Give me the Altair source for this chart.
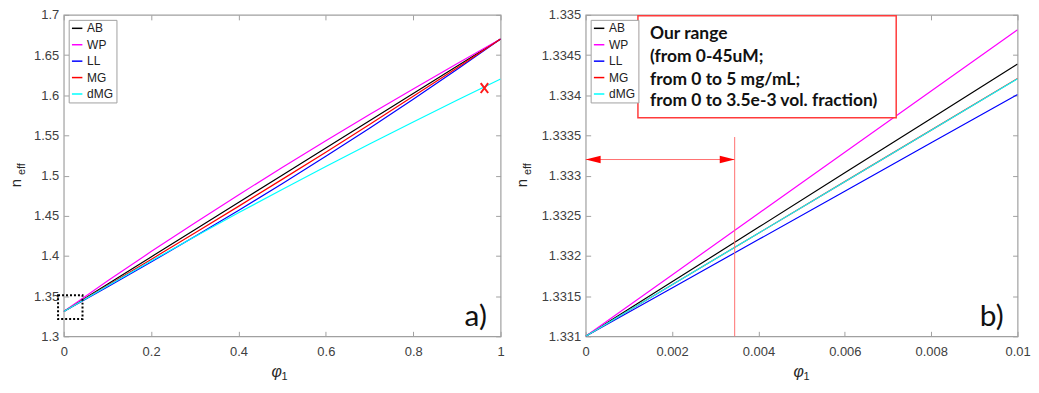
import altair as alt
import pandas as pd

# ---------------- data ----------------
SERIES = ["AB", "WP", "LL", "MG", "dMG"]
COLORS = ["#000000", "#ff00ff", "#0000ff", "#ff0000", "#00ffff"]

# panel a) full range
PHI_A = [0.0, 0.1, 0.2, 0.3, 0.4, 0.5, 0.6, 0.7, 0.8, 0.9, 1.0]
AB_A = [1.331, 1.3649, 1.3988, 1.4327, 1.4666, 1.5005, 1.5344, 1.5683, 1.6022, 1.6361, 1.670]
WP_A = [1.331, 1.3687, 1.4054, 1.4411, 1.4760, 1.5100, 1.5434, 1.5760, 1.6079, 1.6393, 1.670]
LL_A = [1.331, 1.3614, 1.3924, 1.4242, 1.4566, 1.4899, 1.5240, 1.5590, 1.5949, 1.6319, 1.670]
MG_A = [1.331, 1.3632, 1.3957, 1.4285, 1.4617, 1.4953, 1.5292, 1.5637, 1.5986, 1.6340, 1.670]
DMG_A = [1.331, 1.3627, 1.3937, 1.4240, 1.4537, 1.4827, 1.5113, 1.5393, 1.5667, 1.5938, 1.6203]

# panel b) zoom on small fractions
PHI_B = [0.0, 0.002, 0.004, 0.006, 0.008, 0.010]
AB_B = [1.331, 1.331678, 1.332356, 1.333034, 1.333712, 1.334390]
WP_B = [1.331, 1.331764, 1.332528, 1.333291, 1.334054, 1.334816]
LL_B = [1.331, 1.331602, 1.332204, 1.332806, 1.333408, 1.334010]
MG_B = [1.331, 1.331642, 1.332283, 1.332925, 1.333566, 1.334208]
DMG_B = [1.331, 1.331641, 1.332283, 1.332923, 1.333564, 1.334204]

XDOM_A = [0.0, 1.0]
YDOM_A = [1.3, 1.7]
XT_A = [0.0, 0.2, 0.4, 0.6, 0.8, 1.0]
YT_A = [1.3, 1.35, 1.4, 1.45, 1.5, 1.55, 1.6, 1.65, 1.7]

XDOM_B = [0.0, 0.01]
YDOM_B = [1.331, 1.335]
XT_B = [0.0, 0.002, 0.004, 0.006, 0.008, 0.01]
YT_B = [1.331, 1.3315, 1.332, 1.3325, 1.333, 1.3335, 1.334, 1.3345, 1.335]

# annotations panel a
CROSS_X = [0.963]
CROSS_Y = [1.609]
ZOOM_BOX_X = [-0.013, 0.043]
ZOOM_BOX_Y = [1.3214, 1.3511]

# annotations panel b
RANGE_END = 0.00345
RANGE_TOP = 1.33348
ARROW_Y = 1.3332
NOTE_BOX_X = [0.00121, 0.00719]
NOTE_BOX_Y = [1.33372, 1.33499]
NOTE_X = 0.00149
NOTE_LINES = ["Our range", "(from 0-45uM;", "from 0 to 5 mg/mL;", "from 0 to 3.5e-3 vol. fraction)"]
NOTE_Y = [1.334765, 1.33448, 1.334195, 1.333923]

# ---------------- style ----------------
LABEL_FONT = "Liberation Sans"
NOTE_FONT = "Lato"
LABEL_C = "#404040"
GRAY = "#a0a0a0"
W_A, W_B, H = 439, 434, 323


def long_df(phi, cols):
    rows = []
    for name, vals in zip(SERIES, cols):
        for p, v in zip(phi, vals):
            rows.append({"phi": p, "n": v, "model": name})
    return pd.DataFrame(rows)


def one(text):
    return pd.DataFrame({"t": [text]})


def panel(df, xdom, ydom, xticks, yticks, w, extras, ytx, letter_x, letter):
    xs = alt.Scale(domain=xdom, nice=False, zero=False)
    ys = alt.Scale(domain=ydom, nice=False, zero=False)
    lab = dict(labelFont=LABEL_FONT, labelFontSize=13, labelColor=LABEL_C,
               labelOverlap=False, labelFlush=False, grid=False, domain=False, title=None)
    main_x = alt.Axis(orient="bottom", values=xticks, format="~g", tickSize=0,
                      labelPadding=9, **lab)
    main_y = alt.Axis(orient="left", values=yticks, format="~g", tickSize=0,
                      labelPadding=5, **lab)
    tk = dict(labels=False, domain=False, grid=False, ticks=True, tickSize=5,
              tickColor=GRAY, tickWidth=1, title=None, minExtent=0, maxExtent=0)

    lines = alt.Chart(df).mark_line(strokeWidth=1.2, clip=True).encode(
        x=alt.X("phi:Q", scale=xs, axis=main_x),
        y=alt.Y("n:Q", scale=ys, axis=main_y),
        color=alt.Color(
            "model:N",
            scale=alt.Scale(domain=SERIES, range=COLORS),
            legend=alt.Legend(orient="top-left", offset=5, title=None, symbolType="stroke",
                              symbolSize=110, symbolStrokeWidth=1.5, labelFont=LABEL_FONT,
                              labelFontSize=12, labelColor="#222222", strokeColor=GRAY,
                              fillColor="white", padding=2.5, rowPadding=4.5, labelOffset=4,
                              cornerRadius=0),
        ),
    )
    corners = pd.DataFrame({"phi": xdom, "n": ydom})
    ticks1 = alt.Chart(corners).mark_point(opacity=0).encode(
        x=alt.X("phi:Q", scale=xs, axis=alt.Axis(orient="top", offset=-H, values=xticks, **tk)),
        y=alt.Y("n:Q", scale=ys, axis=alt.Axis(orient="right", offset=-w, values=yticks, **tk)),
    )
    ticks2 = alt.Chart(corners).mark_point(opacity=0).encode(
        x=alt.X("phi:Q", scale=xs, axis=alt.Axis(orient="bottom", offset=-H, values=xticks, **tk)),
        y=alt.Y("n:Q", scale=ys, axis=alt.Axis(orient="left", offset=-w, values=yticks, **tk)),
    )

    def txt(text, x, y, size, angle=0, style="normal", font=LABEL_FONT, color="#262626", weight="normal"):
        return alt.Chart(one(text)).mark_text(
            angle=angle, fontSize=size, font=font, fontStyle=style, color=color,
            fontWeight=weight, align="center", baseline="middle"
        ).encode(x=alt.value(x), y=alt.value(y), text="t:N")

    titles = [
        txt("n", ytx, 169, 15, angle=270),
        txt("eff", ytx + 6, 155, 11, angle=270),
        txt("φ", 214, H + 36, 16, style="italic"),
        txt("1", 222, H + 40.5, 11),
        txt(letter, letter_x, 304, 30, font=NOTE_FONT, color="#111111"),
    ]
    layers = [lines] + [e(xs, ys) for e in extras] + [ticks1, ticks2] + titles
    return alt.layer(*layers).resolve_axis(x="independent", y="independent").properties(width=w, height=H)


# extras for panel a
def zoom_box(xs, ys):
    d = pd.DataFrame({"x1": [ZOOM_BOX_X[0]], "x2": [ZOOM_BOX_X[1]], "y1": [ZOOM_BOX_Y[0]], "y2": [ZOOM_BOX_Y[1]]})
    return alt.Chart(d).mark_rect(fill=None, fillOpacity=0, stroke="black", strokeWidth=2,
                                  strokeDash=[2, 2], clip=False).encode(
        x=alt.X("x1:Q", scale=xs, axis=None), x2="x2", y=alt.Y("y1:Q", scale=ys, axis=None), y2="y2")


def cross(xs, ys):
    d = pd.DataFrame({"x": CROSS_X, "y": CROSS_Y})
    return alt.Chart(d).mark_point(shape="M-0.75,-1L0.75,1M0.75,-1L-0.75,1", size=100,
                                   stroke="#ff1a1a", strokeWidth=2, filled=False, opacity=1).encode(
        x=alt.X("x:Q", scale=xs, axis=None), y=alt.Y("y:Q", scale=ys, axis=None))


# extras for panel b
def range_rule(xs, ys):
    d = pd.DataFrame({"x": [RANGE_END], "y1": [YDOM_B[0]], "y2": [RANGE_TOP]})
    return alt.Chart(d).mark_rule(color="#ff7070", strokeWidth=1).encode(
        x=alt.X("x:Q", scale=xs, axis=None), y=alt.Y("y1:Q", scale=ys, axis=None), y2="y2")


def arrow_line(xs, ys):
    d = pd.DataFrame({"x1": [0.0], "x2": [RANGE_END], "y": [ARROW_Y]})
    return alt.Chart(d).mark_rule(color="#ff7070", strokeWidth=1).encode(
        x=alt.X("x1:Q", scale=xs, axis=None), x2="x2", y=alt.Y("y:Q", scale=ys, axis=None))


def arrow_heads(xs, ys):
    d = pd.DataFrame({"x": [0.0, RANGE_END], "y": [ARROW_Y, ARROW_Y], "side": ["l", "r"]})
    left = alt.Chart(d[d.side == "l"]).mark_point(shape="M0,0L2,-0.5L2,0.5Z", size=225, filled=True,
                                                  color="#ff0000", opacity=1, clip=False).encode(
        x=alt.X("x:Q", scale=xs, axis=None), y=alt.Y("y:Q", scale=ys, axis=None))
    right = alt.Chart(d[d.side == "r"]).mark_point(shape="M0,0L-2,-0.5L-2,0.5Z", size=225, filled=True,
                                                   color="#ff0000", opacity=1).encode(
        x=alt.X("x:Q", scale=xs, axis=None), y=alt.Y("y:Q", scale=ys, axis=None))
    return alt.layer(left, right)


def note_box(xs, ys):
    d = pd.DataFrame({"x1": [NOTE_BOX_X[0]], "x2": [NOTE_BOX_X[1]], "y1": [NOTE_BOX_Y[0]], "y2": [NOTE_BOX_Y[1]]})
    return alt.Chart(d).mark_rect(fill="white", stroke="#ff3b3b", strokeWidth=1.5).encode(
        x=alt.X("x1:Q", scale=xs, axis=None), x2="x2", y=alt.Y("y1:Q", scale=ys, axis=None), y2="y2")


def note_text(xs, ys):
    d = pd.DataFrame({"x": [NOTE_X] * len(NOTE_LINES), "y": NOTE_Y, "t": NOTE_LINES})
    return alt.Chart(d).mark_text(align="left", baseline="middle", font=NOTE_FONT, fontSize=17.5,
                                  fontWeight="bold", color="#111111").encode(
        x=alt.X("x:Q", scale=xs, axis=None), y=alt.Y("y:Q", scale=ys, axis=None), text="t:N")


df_a = long_df(PHI_A, [AB_A, WP_A, LL_A, MG_A, DMG_A])
df_b = long_df(PHI_B, [AB_B, WP_B, LL_B, MG_B, DMG_B])

left = panel(df_a, XDOM_A, YDOM_A, XT_A, YT_A, W_A, [zoom_box, cross], -48, 414, "a)")
right = panel(df_b, XDOM_B, YDOM_B, XT_B, YT_B, W_B,
              [range_rule, arrow_line, arrow_heads, note_box, note_text], -64, 408, "b)")

chart = (
    alt.hconcat(left, right, spacing=8.5)
    .resolve_scale(color="independent")
    .properties(padding={"left": 0, "top": -1, "right": 0, "bottom": -1.5}, background="white")
    .configure_view(stroke=GRAY, strokeWidth=1.2)
)

chart.save("out.html", embed_options={"renderer": "svg", "actions": False})
